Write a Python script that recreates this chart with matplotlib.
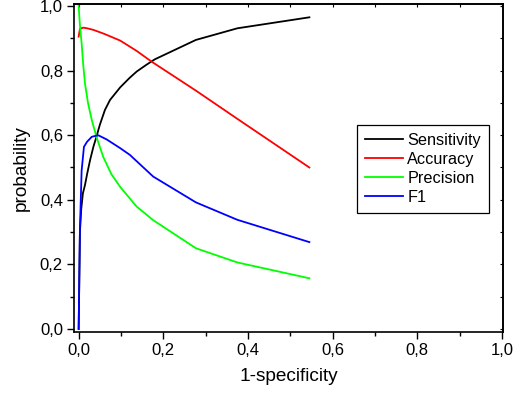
# Recreation of the sensitivity / accuracy / precision / F1 vs 1-specificity chart

import matplotlib
matplotlib.use('Agg')
import matplotlib.pyplot as plt
from matplotlib.ticker import MultipleLocator, FuncFormatter, NullFormatter

plt.rcParams['font.family'] = ['Liberation Sans', 'DejaVu Sans']

# values
sens_x = [0.0, 0.003, 0.006, 0.01, 0.015, 0.02, 0.027, 0.035, 0.042, 0.05, 0.062,
          0.074, 0.098, 0.12, 0.137, 0.16, 0.18, 0.277, 0.375, 0.545]
sens_y = [0.0, 0.30, 0.37, 0.42, 0.446, 0.48, 0.523, 0.565, 0.595, 0.632, 0.678,
          0.709, 0.748, 0.777, 0.797, 0.818, 0.835, 0.895, 0.931, 0.965]

acc_x = [0.0, 0.003, 0.011, 0.02, 0.035, 0.06, 0.098, 0.137, 0.172, 0.277, 0.379, 0.545]
acc_y = [0.905, 0.929, 0.933, 0.931, 0.926, 0.914, 0.893, 0.861, 0.828, 0.738, 0.647, 0.50]

prec_x = [0.0, 0.003, 0.007, 0.011, 0.015, 0.022, 0.031, 0.042, 0.058, 0.077, 0.098,
          0.137, 0.176, 0.277, 0.375, 0.545]
prec_y = [1.0, 0.94, 0.885, 0.815, 0.76, 0.70, 0.647, 0.595, 0.533, 0.48, 0.44,
          0.379, 0.337, 0.25, 0.206, 0.157]

f1_x = [0.0, 0.003, 0.007, 0.0125, 0.02, 0.031, 0.046, 0.066, 0.098, 0.121, 0.176,
        0.277, 0.375, 0.545]
f1_y = [0.0, 0.307, 0.49, 0.564, 0.58, 0.595, 0.600, 0.587, 0.56, 0.539, 0.472,
        0.392, 0.338, 0.269]

fig = plt.figure(figsize=(5.16, 3.96), dpi=100)
ax = fig.add_axes([74 / 516, 1 - 332 / 396, 429 / 516, 328 / 396])

lw = 1.3
ax.plot(sens_x, sens_y, color='black', lw=lw, label='Sensitivity')
ax.plot(acc_x, acc_y, color='red', lw=lw, label='Accuracy')
ax.plot(prec_x, prec_y, color='#00ff00', lw=lw, label='Precision')
ax.plot(f1_x, f1_y, color='blue', lw=lw, label='F1')

ax.set_xlim(-0.011, 1.0024)
ax.set_ylim(-0.0093, 1.0062)

comma = FuncFormatter(lambda v, p: f'{v:.1f}'.replace('.', ','))
ax.xaxis.set_major_locator(MultipleLocator(0.2))
ax.xaxis.set_minor_locator(MultipleLocator(0.1))
ax.yaxis.set_major_locator(MultipleLocator(0.2))
ax.yaxis.set_minor_locator(MultipleLocator(0.1))
ax.xaxis.set_major_formatter(comma)
ax.yaxis.set_major_formatter(comma)

ax.tick_params(which='major', direction='out', length=5, width=1.0,
               labelsize=12, pad=3, top=False, right=False)
ax.tick_params(which='minor', direction='out', length=3, width=1.0,
               top=False, right=False)
for s in ax.spines.values():
    s.set_linewidth(1.2)

# small inward ticks on the top and right frame
sx = ax.secondary_xaxis('top')
sx.xaxis.set_major_locator(MultipleLocator(0.1))
sx.xaxis.set_major_formatter(NullFormatter())
sx.tick_params(direction='in', length=2, width=0.8)
sx.spines['top'].set_linewidth(1.2)
sy = ax.secondary_yaxis('right')
sy.yaxis.set_major_locator(MultipleLocator(0.1))
sy.yaxis.set_major_formatter(NullFormatter())
sy.tick_params(direction='in', length=2, width=0.8)
sy.spines['right'].set_linewidth(1.2)

ax.set_xlabel('1-specificity', fontsize=13.7, labelpad=7)
ax.set_ylabel('probability', fontsize=13.7, labelpad=7)

leg = ax.legend(loc='upper left', bbox_to_anchor=(357 / 516, 1 - 125 / 396),
                bbox_transform=fig.transFigure, fontsize=11.7, frameon=True,
                fancybox=False, edgecolor='black', framealpha=1,
                handlelength=2.3, handletextpad=0.3, labelspacing=0.24,
                borderpad=0.5, borderaxespad=0)
leg.get_frame().set_linewidth(0.9)

plt.savefig('out.png', dpi=100)
plt.close()
